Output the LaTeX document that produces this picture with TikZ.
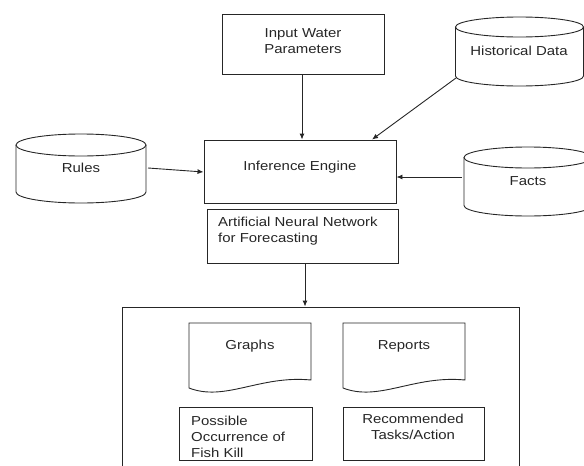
\documentclass[tikz,border=0pt]{standalone}
\usepackage{fontspec}
\setmainfont[FakeStretch=1.15]{Liberation Sans}
\usetikzlibrary{arrows.meta}
\newcommand\cylinderdraw[5]{%
  \draw[line] (#1,#2) ellipse [x radius=#4, y radius=#5];
  \draw[line] (#1-#4,#2) -- (#1-#4,#3) arc[start angle=180, end angle=0, x radius=#4, y radius=#5] -- (#1+#4,#2);
}
\begin{document}
\begin{tikzpicture}[x=1pt,y=-1pt,
  line/.style={draw=black!85, line width=0.9pt},
  box/.style={line, rectangle, inner sep=0pt},
  lbl/.style={font=\fontsize{13}{16}\selectfont, inner sep=0pt, text=black!85},
  arr/.style={line, -{Latex[length=6pt,width=5pt]}}]
\useasboundingbox (0,0) rectangle (584,466);
\clip (0,0) rectangle (584,466);

% boxes
\node[box, minimum width=162pt, minimum height=60pt] (input) at (303,44) {};
\node[box, minimum width=192pt, minimum height=63pt] (inf) at (300,171.5) {};
\node[box, minimum width=191pt, minimum height=54pt] (ann) at (302.5,236) {};
\node[box, minimum width=397pt, minimum height=166pt] (out) at (320.5,390) {};
\node[box, minimum width=133pt, minimum height=53pt] (poss) at (245.5,433.5) {};
\node[box, minimum width=141pt, minimum height=53pt] (reco) at (413.5,433.5) {};

% cylinders
\cylinderdraw{519.5}{27}{76}{64}{10}
\cylinderdraw{81}{145}{192}{65}{11}
\cylinderdraw{528}{157.5}{205.5}{64}{10.5}

% documents
\draw[line] (189,388) -- (189,323) -- (311,323) -- (311,380)
  .. controls (260,375) and (225,402) .. cycle;
\draw[line] (343,388) -- (343,323) -- (465,323) -- (465,380)
  .. controls (414,375) and (379,402) .. cycle;

% texts
\node[lbl, align=center] (inputt) at (303,41) {Input Water\\Parameters};
\node[lbl] (histt) at (519,51) {Historical Data};
\node[lbl] (rulest) at (81,168) {Rules};
\node[lbl] (inft) at (300,167) {Inference Engine};
\node[lbl] (factst) at (528,181) {Facts};
\node[lbl, align=left, anchor=west] (annt) at (218,231.5) {Artificial Neural Network\\for Forecasting};
\node[lbl] (graphst) at (250,346) {Graphs};
\node[lbl] (reportst) at (404,346) {Reports};
\begin{scope}
  \clip (179,407) rectangle (312,459);
  \node[lbl, align=left, anchor=west] (posst) at (191,437) {Possible\\Occurrence of\\Fish Kill};
\end{scope}
\node[lbl, align=center] (recot) at (413,426.5) {Recommended\\Tasks/Action};

% connectors
\coordinate (hbl) at (456,78);
\draw[arr] ([xshift=-1pt]input.south) -- ([xshift=2pt]inf.north);
\draw[arr] (hbl) -- ([xshift=72pt]inf.north);
\draw[arr] (rulest.east -| 148,0) -- ([yshift=-0.5pt]inf.west);
\draw[arr] (462,177) -- (inf.east |- 0,177);
\draw[arr] ([xshift=2.5pt]ann.south) -- ([xshift=-15.5pt]out.north);
\end{tikzpicture}
\end{document}
